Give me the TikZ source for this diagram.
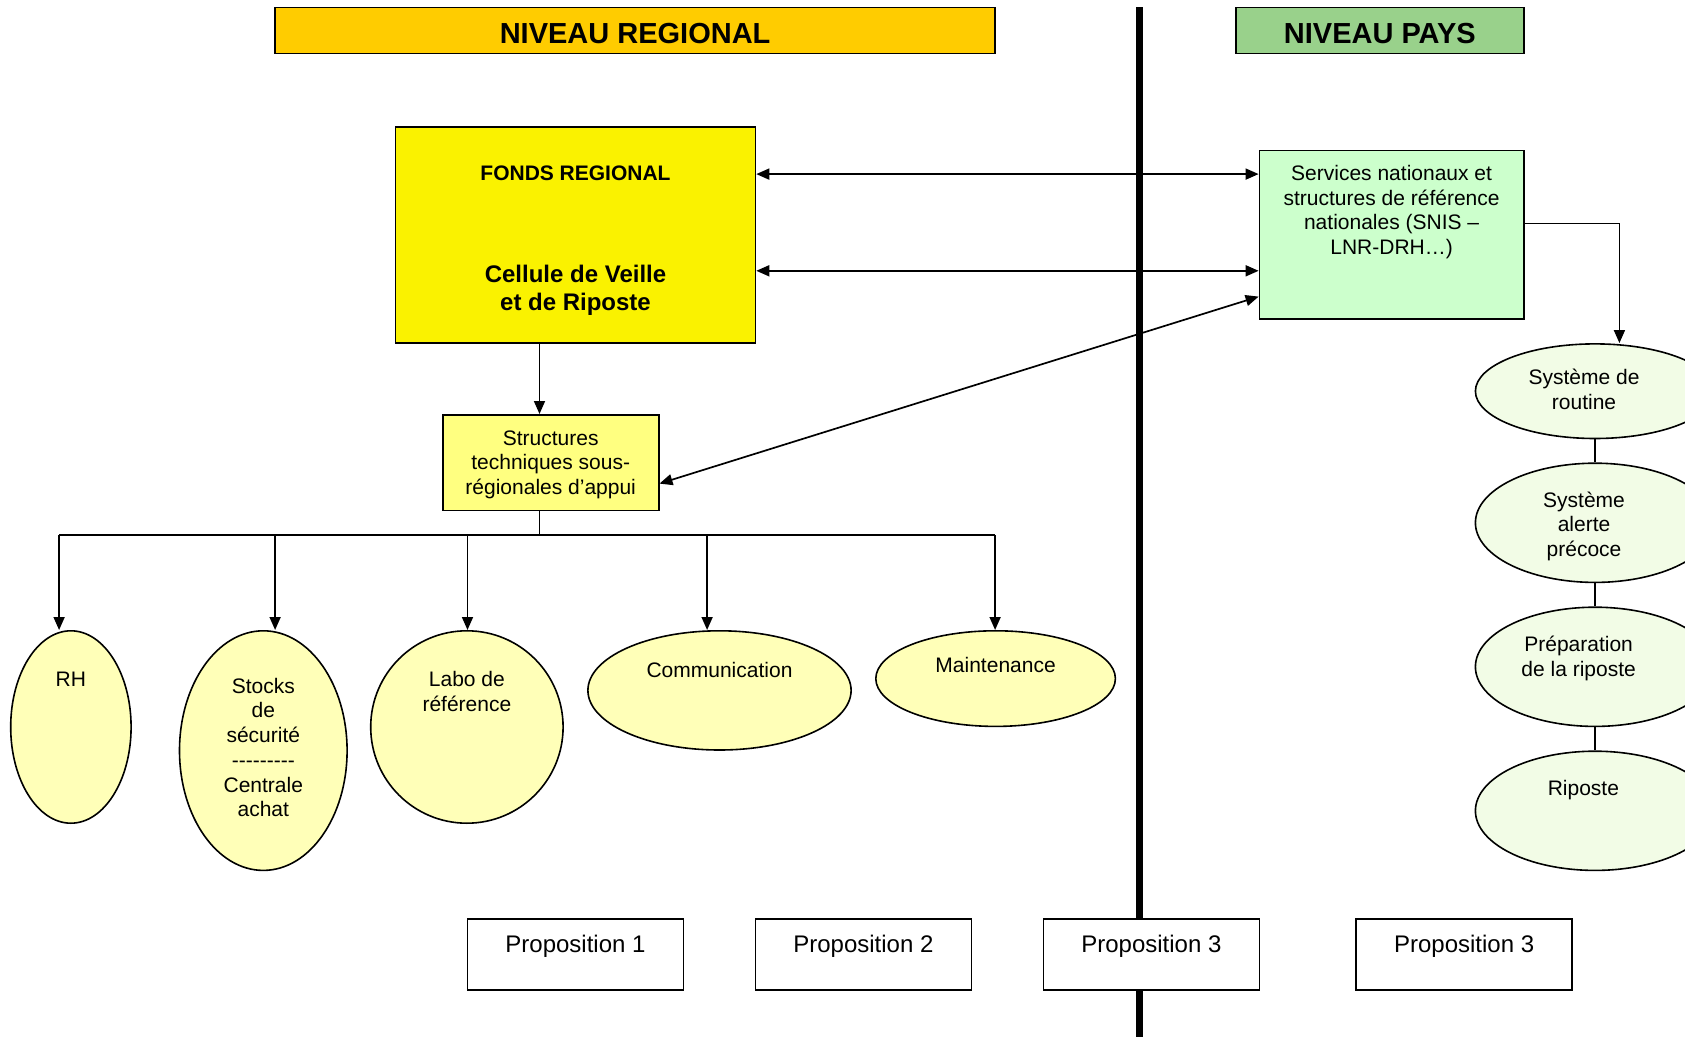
\documentclass[tikz,border=0pt]{standalone}
\usepackage{fontspec}
\setmainfont{Liberation Sans}
\usetikzlibrary{arrows.meta}
\usetikzlibrary{shapes.geometric}
\usetikzlibrary{positioning}

\definecolor{orregion}{HTML}{FFCC00}
\definecolor{vertpays}{HTML}{99D18B}
\definecolor{jaunefonds}{HTML}{FAF200}
\definecolor{jaunestruct}{HTML}{FFFF80}
\definecolor{jaunepale}{HTML}{FFFFB8}
\definecolor{vertservice}{HTML}{CCFFCC}
\definecolor{vertpale}{HTML}{F2FCE6}

\newcommand\pointilles{-\kern0pt-\kern0pt-\kern0pt-\kern0pt-\kern0pt-\kern0pt-\kern0pt-\kern0pt-}

\tikzset{
 boite/.style={draw, line width=0.8pt, inner sep=0pt},
 entete/.style={boite, minimum height=23.1pt, text height=13.4pt, text depth=0pt, font=\bfseries\fontsize{14.5}{17}\selectfont},
 bulle/.style={draw, ellipse, line width=0.8pt, inner sep=0pt, fill=jaunepale},
 bullepays/.style={bulle, fill=vertpale, minimum width=119.6pt},
 txt/.style={align=center, inner sep=0pt, yshift=-1pt, font=\fontsize{10.5}{12.35}\selectfont},
 prop/.style={boite, fill=white, minimum width=108pt, minimum height=35.45pt}
}

\begin{document}
\begin{tikzpicture}[x=0.5pt, y=-0.5pt, line width=0.85pt, >={Triangle[length=6.5pt,width=5.5pt]}]
\useasboundingbox (0,0) rectangle (1685,1037);

% titres
\node[entete, fill=orregion, minimum width=360pt] (regional) at (635.1,30.6) {NIVEAU REGIONAL};
\node[entete, fill=vertpays, minimum width=144pt] (pays) at (1379.8,30.6) {NIVEAU PAYS};

% niveau regional
\node[boite, fill=jaunefonds, minimum width=180pt, minimum height=108pt] (fonds) at (575.5,234.8) {};
\node[txt, yshift=1pt, font=\bfseries\fontsize{10.5}{12.35}\selectfont] (fondstitre) at (575.5,173) {FONDS REGIONAL};
\node[txt, font=\bfseries\fontsize{12}{14}\selectfont] (cellule) at (575.5,288) {Cellule de Veille\\ et de Riposte};

\node[boite, fill=jaunestruct, minimum width=108pt, minimum height=47.8pt] (structures) at (550.7,462.6) {};
\node[txt] (structurestxt) at (550.7,462.6) {Structures\\ techniques sous-\\ régionales d’appui};

\node[bulle, minimum width=60.2pt, minimum height=96.2pt] (rh) at (70.9,727) {};
\node[bulle, minimum width=83.8pt, minimum height=119.8pt] (stocks) at (263.3,750.6) {};
\node[bulle, minimum width=96.2pt, minimum height=96.2pt] (labo) at (466.9,727) {};
\node[bulle, minimum width=131.6pt, minimum height=59.6pt] (comm) at (719.5,690.4) {};
\node[bulle, minimum width=119.8pt, minimum height=47.8pt] (maint) at (995.6,678.6) {};

\node[txt] (rhtxt) at ([yshift=-23.65pt]rh.north) {RH};
\node[txt] (stockstxt) at ([yshift=-57.75pt]stocks.north) {Stocks\\ de\\ sécurité\\ \pointilles\\ Centrale\\ achat};
\node[txt] (labotxt) at ([yshift=-29.8pt]labo.north) {Labo de\\ référence};
\node[txt] (commtxt) at ([yshift=-18.8pt]comm.north) {Communication};
\node[txt] (mainttxt) at ([yshift=-16.65pt]maint.north) {Maintenance};

% niveau pays
\node[boite, fill=vertservice, minimum width=132.2pt, minimum height=84.4pt] (services) at (1391.6,234.8) {};
\node[txt] (servicestxt) at (1391.6,210.1) {Services nationaux et\\ structures de référence\\ nationales (SNIS –\\ LNR-DRH…)};

\node[bullepays, minimum height=47.3pt] (routine) at (1595,391.2) {};
\node[bullepays, minimum height=59.6pt] (alerte) at (1595,522.8) {};
\node[bullepays, minimum height=59.6pt] (prep) at (1595,666.8) {};
\node[bullepays, minimum height=59.6pt] (riposte) at (1595,810.8) {};

\node[txt] (routinetxt) at ([xshift=-5.5pt, yshift=-22.3pt]routine.north) {Système de\\ routine};
\node[txt] (alertetxt) at ([xshift=-5.5pt, yshift=-31pt]alerte.north) {Système\\ alerte\\ précoce};
\node[txt] (preptxt) at ([xshift=-8.2pt, yshift=-24.85pt]prep.north) {Préparation\\ de la riposte};
\node[txt] (ripostetxt) at ([xshift=-5.8pt, yshift=-18.7pt]riposte.north) {Riposte};

% liens
\coordinate (axe) at (539.5,535.2);
\draw[->] (fonds.south -| axe) -- (structures.north -| axe);
\draw (structures.south -| axe) -- (axe);
\foreach \n/\x in {rh/59.1, stocks/275.1, labo/467.5, comm/707.1, maint/995.1}
 \coordinate (d\n) at (\x,535.2);
\draw (drh) -- (dmaint);
\foreach \n in {rh,stocks,labo,comm,maint}
 \draw[->] (d\n) -- (d\n |- \n.north);

\coordinate (lienA) at ([yshift=30.35pt]fonds.east);
\coordinate (lienB) at ([yshift=-18pt]fonds.east);
\draw[<->] (lienA) -- (lienA -| services.west);
\draw[<->] (lienB) -- (lienB -| services.west);
\draw[<->] ([yshift=-30.9pt]services.west) -- ([yshift=-10.5pt]structures.east);

\coordinate (sortie) at ([yshift=5.65pt]services.east);
\coordinate (xr) at (1619.4,0);
\draw[->] (sortie) -| (xr |- routine.north);
\foreach \a/\b in {routine/alerte, alerte/prep, prep/riposte}
 \draw (\a) -- (\b);

% separation
\draw[line width=3.6pt] (1139.5,7.5) -- (1139.5,1037);

% propositions
\foreach \n/\x/\t in {p1/575.5/1, p2/863.4/2, p3/1151.4/3, p4/1464.1/3} {
 \node[prop] (\n) at (\x,954.3) {};
 \node[txt, font=\fontsize{12}{14}\selectfont] (t\n) at ([yshift=-12.95pt]\n.north) {Proposition \t};
}
\end{tikzpicture}
\end{document}
